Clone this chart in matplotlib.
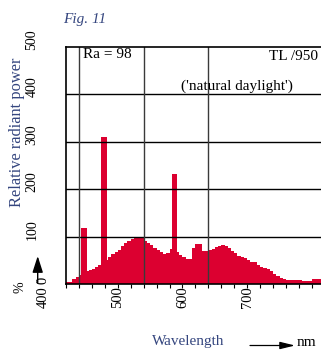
import matplotlib
matplotlib.use("Agg")
import matplotlib.pyplot as plt
import matplotlib.transforms as mtransforms
import numpy as np

# Continuous spectrum, 5 nm bins (left edge of each bin, nm)
bin_start_nm = list(range(420, 820, 5))
bin_power = [5, 5, 11, 15, 20, 25, 28, 31, 33, 36,
             40, 46, 52, 57, 63, 68, 73, 80, 86, 91,
             96, 100, 100, 98, 91, 88, 83, 76, 73, 68,
             64, 66, 74, 70, 67, 62, 58, 54, 54, 77,
             84, 84, 70, 70, 72, 75, 78, 80, 83, 80,
             76, 71, 65, 60, 57, 55, 51, 48, 46, 41,
             37, 34, 33, 27, 22, 18, 14, 11, 10, 10,
             10, 10, 10, 6, 6, 7, 11, 11, 11, 10]

# Mercury emission lines
line_nm = [448, 478, 587.5]
line_power = [119, 310, 232]
line_width_nm = [9.3, 9.3, 7.0]

y_ticks = [0, 100, 200, 300, 400, 500]
y_tick_labels = ["0", "100", "200", "300", "400", "500"]
x_major = [500, 600, 700]
x_major_labels = ["500", "600", "700"]
x_minor = list(range(420, 801, 20))
v_grid_nm = [440, 540, 640]

RED = "#DC0030"
NAVY = "#34457E"
SERIF = "Liberation Serif"

W, H = 321, 353
fig = plt.figure(figsize=(W / 100, H / 100), dpi=100)
fig.patch.set_facecolor("white")

def fx(px):
    return px / W

def fy(py):
    return 1 - py / H

ax_left, ax_bottom, ax_top = 66, 284.3, 46.8
ax = fig.add_axes([fx(ax_left), fy(ax_bottom), 400 * 0.647 / W, (ax_bottom - ax_top) / H])
ax.set_xlim(420, 820)
ax.set_ylim(0, 500)

ax.bar(bin_start_nm, bin_power, width=5, align="edge", color=RED, linewidth=0, zorder=2)
ax.bar(line_nm, line_power, width=line_width_nm, align="center", color=RED, linewidth=0, zorder=2)

for v in y_ticks[1:-1]:
    ax.axhline(v, color="black", lw=1.0, zorder=3)
for v in v_grid_nm:
    ax.axvline(v, color="#3a3a3a", lw=1.0, zorder=3)

for s in ["top", "left", "bottom"]:
    ax.spines[s].set_linewidth(1.2)
    ax.spines[s].set_color("black")
    ax.spines[s].set_zorder(4)
ax.spines["right"].set_visible(False)

ax.set_yticks([])
ax.set_xticks(x_major)
ax.set_xticklabels(x_major_labels, rotation=90, fontfamily=SERIF, fontsize=10.5)
ax.set_xticks(x_minor, minor=True)
ax.tick_params(axis="x", which="both", direction="out", length=2.6, width=0.8, pad=-1.5)
for lab in ax.get_xticklabels():
    lab.set_verticalalignment("top")

# y tick labels, rotated and sitting just above each grid line
ylab_tr = mtransforms.offset_copy(
    mtransforms.blended_transform_factory(fig.transFigure, ax.transData),
    fig=fig, x=0, y=7.5, units="dots")
for v, t in zip(y_ticks[1:], y_tick_labels[1:]):
    ax.text(fx(32), v, t, transform=ylab_tr, rotation=90, ha="center", va="center",
            fontfamily=SERIF, fontsize=10, color="black", clip_on=False)
fig.text(fx(43.5), fy(280.5), y_tick_labels[0], rotation=90, ha="center", va="center",
         fontfamily=SERIF, fontsize=10.5, color="black")
fig.text(fx(43.5), fy(297), "400", rotation=90, ha="center", va="center",
         fontfamily=SERIF, fontsize=10.5, color="black")

fig.text(fx(17.5), fy(132), "Relative radiant power", rotation=90, ha="center", va="center",
         fontfamily=SERIF, fontsize=11.8, color=NAVY)
fig.text(fx(20), fy(287), "%", rotation=90, ha="center", va="center",
         fontfamily=SERIF, fontsize=10, color="black")
fig.text(fx(63), fy(19.5), "Fig. 11", ha="left", va="center",
         fontfamily=SERIF, fontstyle="italic", fontsize=11, color=NAVY)

fig.text(fx(83), fy(54.5), "Ra = 98", ha="left", va="center",
         fontfamily=SERIF, fontsize=11, color="black")
fig.text(fx(318), fy(56), "TL /950", ha="right", va="center",
         fontfamily=SERIF, fontsize=11, color="black")
fig.text(fx(237), fy(86.5), "('natural daylight')", ha="center", va="center",
         fontfamily=SERIF, fontsize=11, color="black")

fig.text(fx(188), fy(341.5), "Wavelength", ha="center", va="center",
         fontfamily=SERIF, fontsize=11, color=NAVY)
fig.text(fx(297), fy(342), "nm", ha="left", va="center",
         fontfamily=SERIF, fontsize=11, color="black")

# arrows
fig.add_artist(matplotlib.patches.FancyArrowPatch(
    (fx(250), fy(345.5)), (fx(295), fy(345.5)), transform=fig.transFigure,
    arrowstyle="-|>,head_length=9,head_width=2.2", color="black", lw=0.9,
    shrinkA=0, shrinkB=0))
fig.add_artist(matplotlib.patches.FancyArrowPatch(
    (fx(37.7), fy(283)), (fx(37.7), fy(256)), transform=fig.transFigure,
    arrowstyle="-|>,head_length=10,head_width=3.2", color="black", lw=1.0,
    shrinkA=0, shrinkB=0))

fig.savefig("out.png", dpi=100, facecolor="white")
